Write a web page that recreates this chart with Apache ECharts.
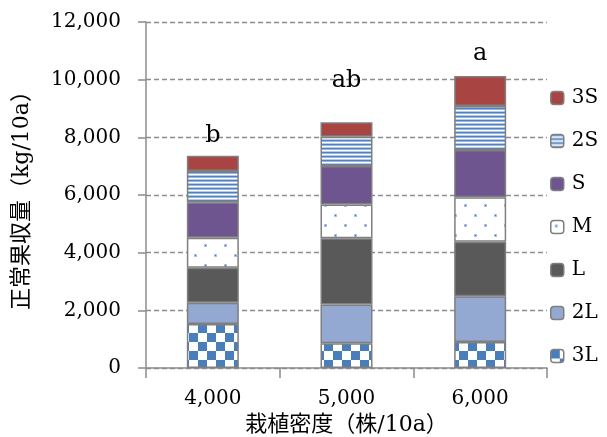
<!DOCTYPE html>
<html>
<head>
<meta charset="utf-8">
<script src="https://cdn.jsdelivr.net/npm/echarts@6/dist/echarts.min.js"></script>
<style>html,body{margin:0;padding:0;background:#fff;}#c{width:607px;height:437px;}</style>
</head>
<body>
<div id="c"></div>
<script>
// ---- data ----
const categories = ['4,000', '5,000', '6,000'];
const seriesNames = ['3L', '2L', 'L', 'M', 'S', '2S', '3S'];
const v3L = [1530, 860, 900];
const v2L = [730, 1340, 1590];
const vL  = [1215, 2300, 1890];
const vM  = [1040, 1170, 1540];
const vS  = [1230, 1340, 1640];
const v2S = [1090, 1010, 1530];
const v3S = [530, 500, 1040];
const sigLetters = ['b', 'ab', 'a'];
const yTicks = [0, 2000, 4000, 6000, 8000, 10000, 12000];

// ---- patterns ----
function mk(w, h, draw) {
  const c = document.createElement('canvas');
  c.width = w; c.height = h;
  const g = c.getContext('2d');
  g.fillStyle = '#ffffff'; g.fillRect(0, 0, w, h);
  draw(g);
  return { image: c, repeat: 'repeat' };
}
const blue = '#4a7ebb';
const checker = mk(18, 18, g => {
  g.fillStyle = blue;
  g.fillRect(0, 0, 9, 9);
  g.fillRect(9, 9, 9, 9);
});
const stripes = mk(4, 4, g => {
  g.fillStyle = '#4f81c2'; g.fillRect(0, 0, 4, 1);
  g.fillStyle = '#9ab6dc'; g.fillRect(0, 1, 4, 1);
  g.fillStyle = '#ffffff'; g.fillRect(0, 2, 4, 1);
  g.fillStyle = '#b7cbe6'; g.fillRect(0, 3, 4, 1);
});
const dots = mk(20, 20, g => {
  g.fillStyle = '#a9c3e4';
  g.fillRect(4, 4, 3, 3); g.fillRect(14, 14, 3, 3);
  g.fillStyle = '#3f74b8';
  g.fillRect(5, 5, 1, 1); g.fillRect(15, 15, 1, 1);
});

const fills = {
  '3L': checker,
  '2L': '#93a9d1',
  'L': '#595959',
  'M': dots,
  'S': '#6f5590',
  '2S': stripes,
  '3S': '#a84543'
};
const values = { '3L': v3L, '2L': v2L, 'L': vL, 'M': vM, 'S': vS, '2S': v2S, '3S': v3S };

const serif = "'DejaVu Serif', 'Noto Sans CJK JP', serif";
const letterGap = [8, 30, 10];

const series = seriesNames.map(name => ({
  name: name,
  type: 'bar',
  stack: 'total',
  barWidth: 52,
  itemStyle: { color: fills[name], borderColor: '#7f7f7f', borderWidth: 1.5 },
  emphasis: { disabled: true },
  data: values[name].map((v, i) => name === '3S' ? {
    value: v,
    label: {
      show: true, position: 'top', distance: letterGap[i],
      formatter: sigLetters[i],
      fontFamily: serif, fontSize: 24, color: '#000'
    }
  } : v)
}));

const chart = echarts.init(document.getElementById('c'), null, { renderer: 'canvas' });
chart.setOption({
  animation: false,
  backgroundColor: '#ffffff',
  grid: { left: 146, right: 60, top: 22, bottom: 69, containLabel: false, outerBoundsMode: 'none' },
  legend: {
    data: seriesNames.slice().reverse(),
    orient: 'vertical',
    left: 550,
    top: 88,
    padding: 0,
    itemWidth: 13,
    itemHeight: 13,
    itemGap: 23,
    itemStyle: { borderColor: '#7f7f7f', borderWidth: 1.5 },
    textStyle: { fontFamily: serif, fontSize: 20, color: '#000', lineHeight: 20, padding: [0, 0, 0, 3] },
    selectedMode: false
  },
  xAxis: {
    type: 'category',
    data: categories,
    axisLine: { lineStyle: { color: '#8c8c8c', width: 1.5 } },
    axisTick: { show: true, length: 10, alignWithLabel: false, lineStyle: { color: '#8c8c8c', width: 1.5 } },
    axisLabel: { fontFamily: serif, fontSize: 20, color: '#000', margin: 21 },
    name: '栽植密度（株/10a）',
    nameLocation: 'middle',
    nameGap: 43,
    nameTextStyle: { fontFamily: serif, fontSize: 22, color: '#000' }
  },
  yAxis: {
    type: 'value',
    min: 0, max: 12000, interval: 2000,
    axisLine: { show: true, lineStyle: { color: '#8c8c8c', width: 1.5 } },
    axisTick: { show: true, length: 8, lineStyle: { color: '#8c8c8c', width: 1.5 } },
    axisLabel: {
      fontFamily: serif, fontSize: 20, color: '#000', margin: 25,
      formatter: v => yTicks.indexOf(v) >= 0 ? v.toLocaleString('en-US') : ''
    },
    splitLine: { show: true, lineStyle: { color: '#8c8c8c', type: [5, 3], width: 1.3 } },
    name: '正常果収量（kg/10a）',
    nameLocation: 'middle',
    nameGap: 113,
    nameRotate: 90,
    nameTextStyle: { fontFamily: serif, fontSize: 22, color: '#000' }
  },
  series: series
});
</script>
</body>
</html>
